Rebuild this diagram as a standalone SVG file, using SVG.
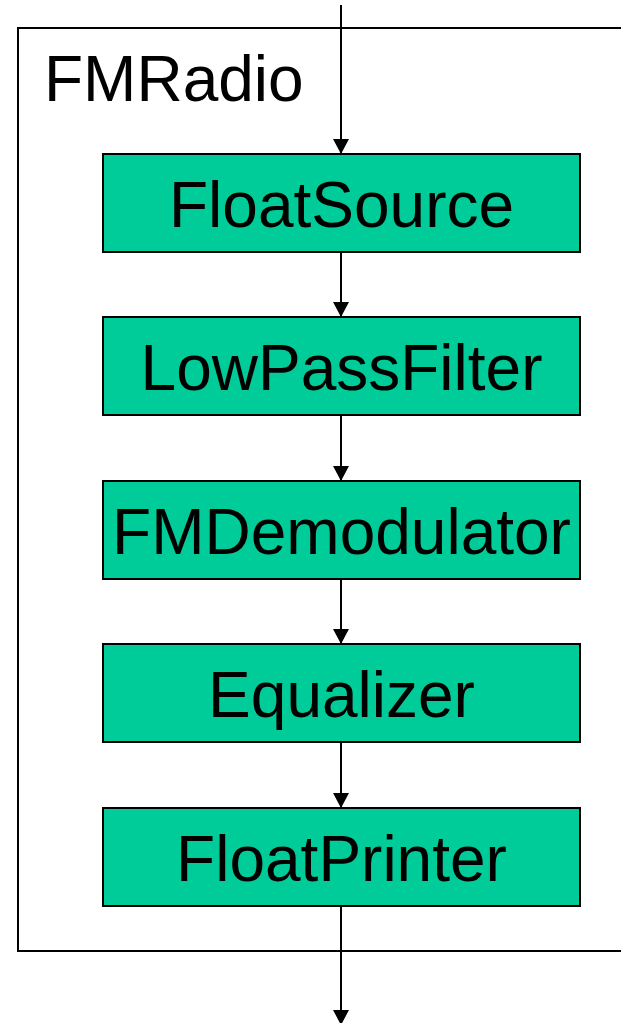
<svg xmlns="http://www.w3.org/2000/svg" width="621" height="1023" viewBox="0 0 621 1023">
  <style>
    .frame { fill: none; stroke: #000; stroke-width: 2; }
    .box { fill: #00CC99; stroke: #000; stroke-width: 2; }
    .label { font-family: "Liberation Sans", Arial, sans-serif; font-size: 64px; fill: #000; }
    .mid { text-anchor: middle; }
    .wire { stroke: #000; stroke-width: 2; fill: none; marker-end: url(#arrow); }
  </style>
  <defs>
    <marker id="arrow" markerUnits="userSpaceOnUse" markerWidth="16" markerHeight="16" viewBox="0 0 15 16" refX="15" refY="8" orient="auto">
      <path d="M0,0 L15,8 L0,16 Z" fill="#000"/>
    </marker>
  </defs>
  <rect width="621" height="1023" fill="#fff"/>

  <!-- enclosing pipeline -->
  <g id="fmradio">
    <path class="frame" d="M625,28 L18,28 L18,951 L625,951"/>
    <text class="label" x="44" y="101">FMRadio</text>
  </g>

  <!-- connectors -->
  <g id="connectors">
    <line class="wire" x1="341" y1="5" x2="341" y2="154"/>
    <line class="wire" x1="341" y1="253" x2="341" y2="317"/>
    <line class="wire" x1="341" y1="416" x2="341" y2="481"/>
    <line class="wire" x1="341" y1="580" x2="341" y2="644"/>
    <line class="wire" x1="341" y1="743" x2="341" y2="808"/>
    <line class="wire" x1="341" y1="907" x2="341" y2="1025"/>
  </g>

  <g id="floatsource">
    <rect class="box" x="103" y="154" width="477" height="98"/>
    <text class="label mid" x="341.5" y="227">FloatSource</text>
  </g>
  <g id="lowpassfilter">
    <rect class="box" x="103" y="317" width="477" height="98"/>
    <text class="label mid" x="341.5" y="390">LowPassFilter</text>
  </g>
  <g id="fmdemodulator">
    <rect class="box" x="103" y="481" width="477" height="98"/>
    <text class="label mid" x="341.5" y="554">FMDemodulator</text>
  </g>
  <g id="equalizer">
    <rect class="box" x="103" y="644" width="477" height="98"/>
    <text class="label mid" x="341.5" y="717">Equalizer</text>
  </g>
  <g id="floatprinter">
    <rect class="box" x="103" y="808" width="477" height="98"/>
    <text class="label mid" x="341.5" y="881">FloatPrinter</text>
  </g>
</svg>
